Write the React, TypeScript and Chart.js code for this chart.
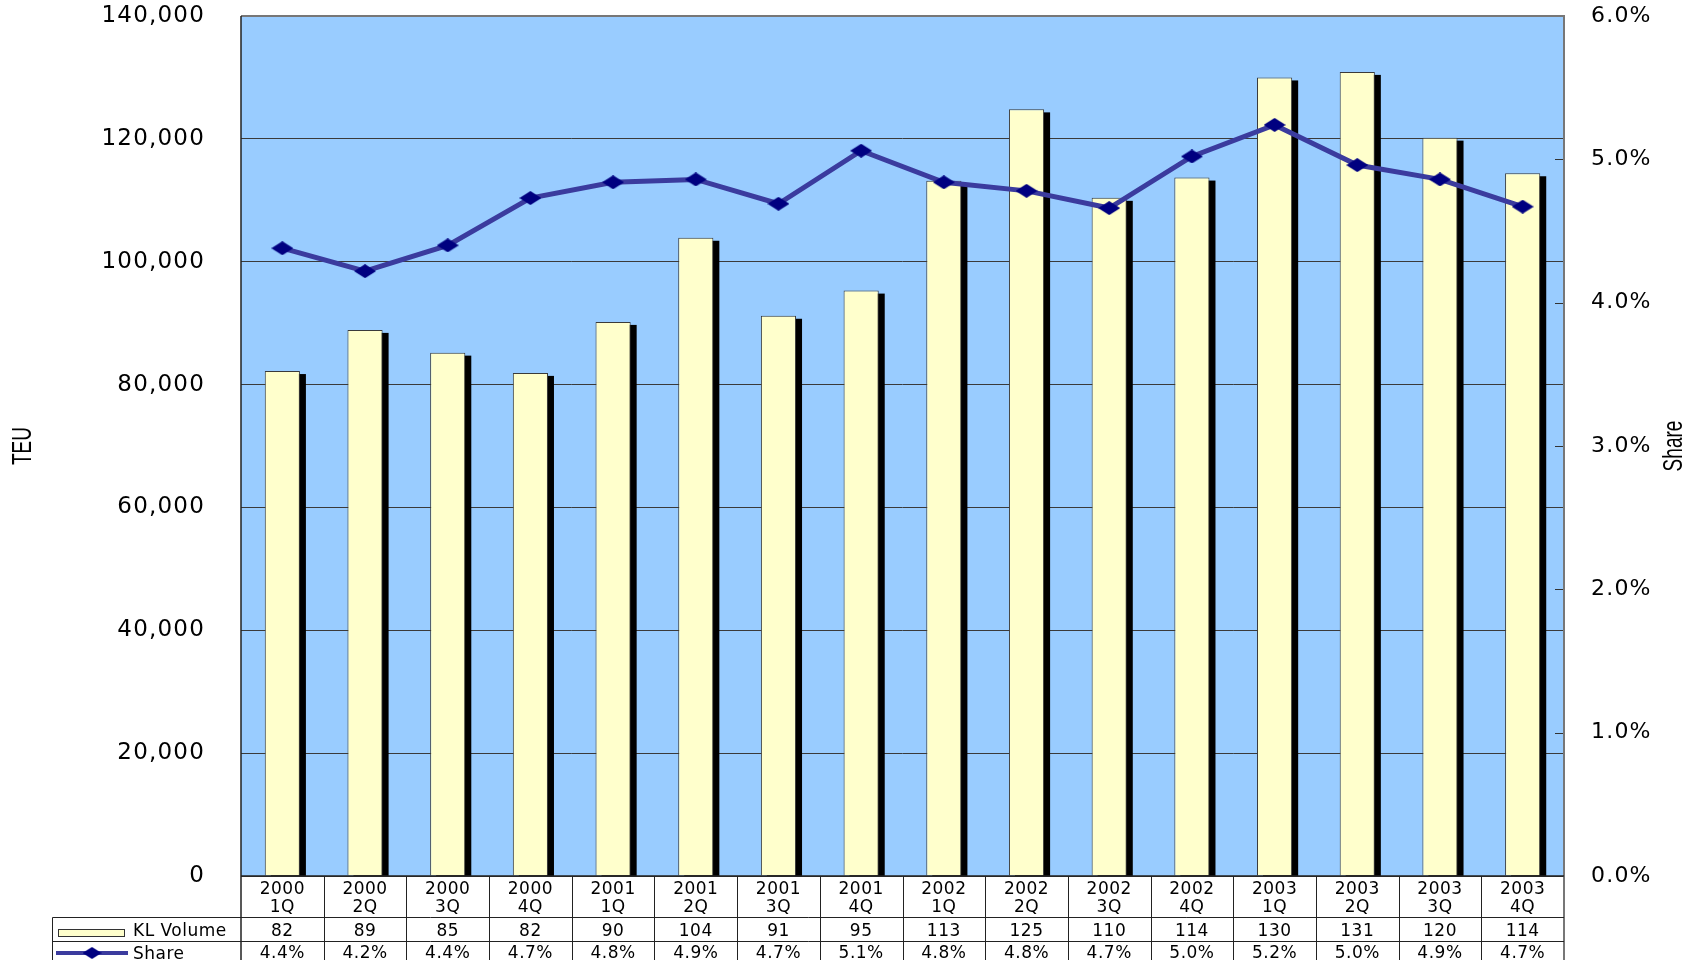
import React, { useEffect, useRef } from 'react';
import { Chart, registerables } from 'chart.js';

Chart.register(...registerables);

const years = ['2000', '2000', '2000', '2000', '2001', '2001', '2001', '2001', '2002', '2002', '2002', '2002', '2003', '2003', '2003', '2003'];
const quarters = ['1Q', '2Q', '3Q', '4Q', '1Q', '2Q', '3Q', '4Q', '1Q', '2Q', '3Q', '4Q', '1Q', '2Q', '3Q', '4Q'];
const klVolume = [82200, 88900, 85200, 81900, 90200, 103900, 91200, 95300, 113200, 124800, 110400, 113700, 130000, 130900, 120200, 114400];
const sharePct = [4.38, 4.22, 4.40, 4.73, 4.84, 4.86, 4.69, 5.06, 4.84, 4.78, 4.66, 5.02, 5.24, 4.96, 4.86, 4.67];
const leftMax = 140000;
const leftStep = 20000;
const rightMax = 6;
const rightStep = 1;
const seriesNames = ['KL Volume', 'Share'];
const leftTitle = 'TEU';
const rightTitle = 'Share';

const W = 1698;
const H = 960;
const TABLE_FONT = '17px "DejaVu Sans"';

function makeDiamond(w: number, h: number, color: string) {
  const c = document.createElement('canvas');
  c.width = w;
  c.height = h;
  const g = c.getContext('2d')!;
  g.fillStyle = color;
  g.beginPath();
  g.moveTo(w / 2, 0);
  g.lineTo(w, h / 2);
  g.lineTo(w / 2, h);
  g.lineTo(0, h / 2);
  g.closePath();
  g.fill();
  return c;
}

export default function App() {
  const ref = useRef<HTMLCanvasElement | null>(null);

  useEffect(() => {
    const canvas = ref.current!;
    const diamond = makeDiamond(22, 14, '#000080');
    const lineColor = '#3b3b9e';

    const plugin = {
      id: 'excelDecor',
      beforeDraw(chart: any) {
        const { ctx, chartArea: a } = chart;
        ctx.save();
        ctx.fillStyle = '#ffffff';
        ctx.fillRect(0, 0, chart.width, chart.height);
        ctx.fillStyle = '#99CCFF';
        ctx.fillRect(a.left, a.top, a.right - a.left, a.bottom - a.top);
        ctx.restore();
        (ctx as any).letterSpacing = '1.2px';
      },
      beforeDatasetsDraw(chart: any) {
        (chart.ctx as any).letterSpacing = '0px';
      },
      beforeDatasetDraw(chart: any, args: any) {
        if (args.index !== 0) return;
        const { ctx, chartArea: a } = chart;
        const meta = chart.getDatasetMeta(0);
        ctx.save();
        ctx.beginPath();
        ctx.rect(a.left, a.top, a.right - a.left, a.bottom - a.top);
        ctx.clip();
        ctx.fillStyle = '#000000';
        meta.data.forEach((el: any) => {
          const p = el.getProps(['x', 'y', 'width', 'base'], true);
          ctx.fillRect(p.x - p.width / 2 + 6, p.y + 3, p.width, p.base - p.y);
        });
        ctx.restore();
      },
      afterDraw(chart: any) {
        const { ctx, chartArea: a } = chart;
        const xs = chart.scales.x;
        const y1 = chart.scales.y1;
        ctx.save();
        (ctx as any).letterSpacing = '0px';
        // right axis inner tick marks
        ctx.strokeStyle = '#333333';
        ctx.lineWidth = 1;
        y1.ticks.forEach((t: any) => {
          const py = Math.round(y1.getPixelForValue(t.value)) + 0.5;
          ctx.beginPath();
          ctx.moveTo(a.right - 9, py);
          ctx.lineTo(a.right, py);
          ctx.stroke();
        });
        // plot borders
        ctx.strokeStyle = '#777777';
        ctx.lineWidth = 2;
        ctx.beginPath();
        ctx.moveTo(a.left, a.top);
        ctx.lineTo(a.right, a.top);
        ctx.lineTo(a.right, H);
        ctx.stroke();
        ctx.strokeStyle = '#222222';
        ctx.lineWidth = 1.5;
        ctx.beginPath();
        ctx.moveTo(a.left, a.top);
        ctx.lineTo(a.left, H);
        ctx.moveTo(a.left, a.bottom);
        ctx.lineTo(a.right, a.bottom);
        ctx.stroke();

        // data table
        const n = years.length;
        const half = (xs.getPixelForValue(1) - xs.getPixelForValue(0)) / 2;
        const row1 = a.bottom + 41.5;
        const row2 = a.bottom + 65.5;
        const tableLeft = 52.5;
        ctx.strokeStyle = '#222222';
        ctx.lineWidth = 1;
        ctx.beginPath();
        ctx.moveTo(tableLeft, row1);
        ctx.lineTo(a.right, row1);
        ctx.moveTo(tableLeft, row2);
        ctx.lineTo(a.right, row2);
        ctx.moveTo(tableLeft, row1);
        ctx.lineTo(tableLeft, H);
        for (let i = 1; i < n; i++) {
          const bx = Math.round(xs.getPixelForValue(i) - half) + 0.5;
          ctx.moveTo(bx, a.bottom);
          ctx.lineTo(bx, H);
        }
        ctx.stroke();

        ctx.fillStyle = '#000000';
        ctx.font = TABLE_FONT;
        ctx.textAlign = 'center';
        ctx.textBaseline = 'middle';
        (ctx as any).letterSpacing = '0.5px';
        for (let i = 0; i < n; i++) {
          const cx = xs.getPixelForValue(i);
          ctx.fillText(years[i], cx, a.bottom + 14);
          ctx.fillText(quarters[i], cx, a.bottom + 32);
          ctx.fillText(String(Math.round(klVolume[i] / 1000)), cx, a.bottom + 56);
          ctx.fillText(sharePct[i].toFixed(1) + '%', cx, a.bottom + 78);
        }
        // legend keys
        ctx.fillStyle = '#FFFFCC';
        ctx.fillRect(58, a.bottom + 53, 67, 8);
        ctx.strokeStyle = '#333333';
        ctx.strokeRect(58.5, a.bottom + 53.5, 66, 7);
        ctx.strokeStyle = lineColor;
        ctx.lineWidth = 4;
        ctx.beginPath();
        ctx.moveTo(56, a.bottom + 77);
        ctx.lineTo(128, a.bottom + 77);
        ctx.stroke();
        ctx.drawImage(makeDiamond(19, 12, '#000080'), 92 - 9.5, a.bottom + 77 - 6);
        ctx.fillStyle = '#000000';
        ctx.textAlign = 'left';
        ctx.fillText(seriesNames[0], 133, a.bottom + 56);
        ctx.fillText(seriesNames[1], 133, a.bottom + 79);

        // axis titles
        (ctx as any).letterSpacing = '0px';
        ctx.font = '28px "Liberation Sans"';
        ctx.textAlign = 'center';
        ctx.textBaseline = 'middle';
        const cy = (a.top + a.bottom) / 2;
        ctx.save();
        ctx.translate(23, cy);
        ctx.rotate(-Math.PI / 2);
        ctx.scale(0.68, 1);
        ctx.fillText(leftTitle, 0, 0);
        ctx.restore();
        ctx.save();
        ctx.translate(1674, cy);
        ctx.rotate(-Math.PI / 2);
        ctx.scale(0.68, 1);
        ctx.fillText(rightTitle, 0, 0);
        ctx.restore();
        ctx.restore();
      },
    };

    const chart = new Chart(canvas, {
      type: 'bar',
      data: {
        labels: years.map((y, i) => y + ' ' + quarters[i]),
        datasets: [
          {
            type: 'bar',
            label: seriesNames[0],
            data: klVolume,
            yAxisID: 'y',
            backgroundColor: '#FFFFCC',
            borderColor: '#3a3a3a',
            borderWidth: 1,
            barPercentage: 0.85,
            categoryPercentage: 0.5,
            order: 1,
          } as any,
          {
            type: 'line',
            label: seriesNames[1],
            data: sharePct,
            yAxisID: 'y1',
            borderColor: lineColor,
            borderWidth: 5,
            pointStyle: diamond,
            pointRadius: 11,
            pointBackgroundColor: '#000080',
            pointBorderColor: '#000080',
            tension: 0,
            order: 0,
          } as any,
        ],
      },
      options: {
        responsive: false,
        devicePixelRatio: 1,
        animation: false,
        layout: { padding: { top: 13, bottom: 84, left: 0, right: 0 } },
        plugins: { legend: { display: false }, tooltip: { enabled: false } },
        scales: {
          x: { type: 'category', display: false, offset: true },
          y: {
            position: 'left',
            min: 0,
            max: leftMax,
            border: { display: false },
            grid: { color: '#3a3a3a', lineWidth: 1, drawTicks: true, tickLength: 33, tickColor: 'rgba(0,0,0,0)' },
            ticks: {
              stepSize: leftStep,
              padding: 3,
              color: '#000000',
              font: { family: 'DejaVu Sans', size: 23, lineHeight: 1 },
              callback: (v: any) => Number(v).toLocaleString('en-US'),
            },
            afterFit: (s: any) => {
              s.width = 241;
            },
          },
          y1: {
            position: 'right',
            min: 0,
            max: rightMax,
            border: { display: false },
            grid: { drawOnChartArea: false, drawTicks: true, tickLength: 24, tickColor: 'rgba(0,0,0,0)' },
            ticks: {
              stepSize: rightStep,
              padding: 3,
              color: '#000000',
              font: { family: 'DejaVu Sans', size: 22, lineHeight: 1 },
              callback: (v: any) => Number(v).toFixed(1) + '%',
            },
            afterFit: (s: any) => {
              s.width = 134;
            },
          },
        },
      },
      plugins: [plugin],
    });
    return () => chart.destroy();
  }, []);

  return (
    <div style={{ position: 'fixed', left: 0, top: 0, width: W, height: H }}>
      <canvas ref={ref} width={W} height={H} style={{ display: 'block', width: W, height: H }} />
    </div>
  );
}
